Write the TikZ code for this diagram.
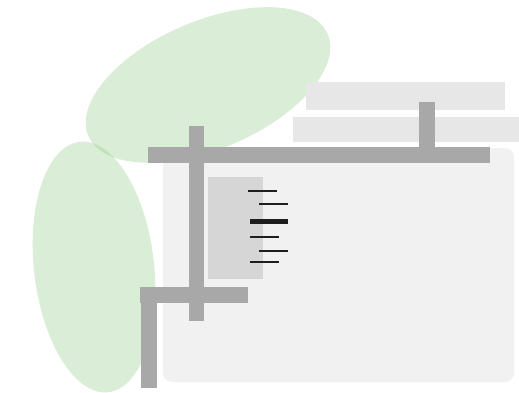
\documentclass[tikz,border=0pt]{standalone}
\definecolor{leaf}{RGB}{149,204,138}
\definecolor{panel}{RGB}{242,241,241}
\definecolor{shelf}{RGB}{231,231,231}
\definecolor{beam}{RGB}{168,168,168}
\definecolor{plate}{RGB}{214,214,214}
\definecolor{ink}{RGB}{30,30,30}
\begin{document}
\begin{tikzpicture}[x=1pt,y=-1pt,
  blob/.style={fill=leaf,fill opacity=0.35},
  beamfill/.style={fill=beam},
  shelffill/.style={fill=shelf},
  tickline/.style={draw=ink,line width=2.6pt},
  boldtick/.style={draw=ink,line width=5pt}]
\useasboundingbox (0,0) rectangle (519,393);
\fill[white] (0,0) rectangle (519,393);
% green ellipses
\fill[blob] (208,85) ellipse [x radius=130, y radius=64, rotate=23];
\fill[blob] (94,267) ellipse [x radius=60, y radius=126, rotate=6.5];
% panel and shelves
\fill[panel, rounded corners=9pt] (163,148) rectangle (514,382);
\fill[shelffill] (306,82) rectangle (505,110);
\fill[shelffill] (293,117) rectangle (519,142);
% inner plate
\fill[plate] (208,177) rectangle (263,279);
% beams
\fill[beamfill] (148,147) rectangle (490,163);
\fill[beamfill] (419,102) rectangle (435,147);
\fill[beamfill] (189,126) rectangle (204,321);
\fill[beamfill] (140,287) rectangle (248,303);
\fill[beamfill] (141,287) rectangle (157,388);
% ticks
\draw[tickline] (248,191) -- (277,191);
\draw[tickline] (259,204) -- (288,204);
\draw[boldtick] (250,221) -- (288,221);
\draw[tickline] (250,237) -- (279,237);
\draw[tickline] (259,251) -- (288,251);
\draw[tickline] (250,262) -- (279,262);
\end{tikzpicture}
\end{document}
